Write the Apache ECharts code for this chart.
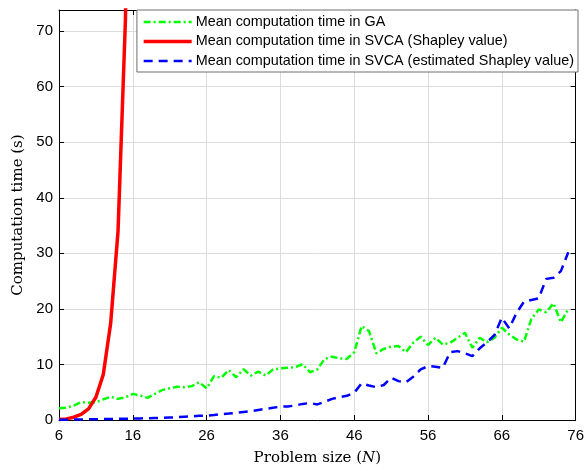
<!DOCTYPE html>
<html>
<head>
<meta charset="utf-8">
<script src="https://cdn.jsdelivr.net/npm/echarts@6/dist/echarts.min.js"></script>
<style>
  html, body { margin: 0; padding: 0; background: #fff; }
  #chart { width: 587px; height: 471px; }
</style>
</head>
<body>
<div id="chart"></div>
<script>
// Problem sizes N = 6 ... 75
const problemSizes = [];
for (let n = 6; n <= 75; n++) problemSizes.push(n);

// Mean computation time (s) of the genetic algorithm
const gaTime = [
  2.1, 2.2, 2.6, 3.2, 3.1, 3.2, 3.7, 4.2, 3.8, 4.1,
  4.7, 4.4, 4.0, 4.7, 5.4, 5.7, 6.0, 5.9, 6.1, 6.8,
  5.7, 7.9, 7.6, 9.0, 7.7, 9.15, 8.0, 8.7, 8.0, 9.1,
  9.3, 9.4, 9.5, 10.05, 8.6, 9.1, 11.0, 11.4, 11.1, 11.0,
  12.2, 16.9, 16.0, 12.0, 12.8, 13.2, 13.3, 12.2, 13.9, 15.0,
  13.5, 14.8, 13.6, 13.9, 14.8, 15.7, 13.0, 14.8, 14.0, 14.8,
  16.6, 15.4, 14.5, 14.1, 18.2, 19.9, 19.4, 21.0, 17.6, 20.0
];

// Exact Shapley value: only small problem sizes are tractable
const svcaExactN = [6, 7, 8, 9, 10, 11, 12, 13, 14, 15, 16];
const svcaExactTime = [0.1, 0.2, 0.5, 1.0, 2.0, 4.1, 8.2, 17.4, 34.0, 72.0, 150.0];

// Estimated Shapley value
const svcaEstTime = [
  0.05, 0.05, 0.08, 0.1, 0.12, 0.14, 0.16, 0.18, 0.2, 0.22,
  0.25, 0.28, 0.32, 0.36, 0.4, 0.45, 0.5, 0.58, 0.65, 0.75,
  0.8, 0.9, 1.05, 1.15, 1.3, 1.45, 1.6, 1.8, 2.0, 2.2,
  2.4, 2.45, 2.6, 2.9, 3.05, 2.8, 3.3, 3.8, 4.1, 4.35,
  4.9, 6.6, 6.2, 5.9, 6.3, 7.6, 7.0, 6.8, 7.8, 9.1,
  9.7, 9.6, 9.4, 12.2, 12.4, 12.0, 11.5, 12.9, 14.0, 15.3,
  18.4, 16.5, 19.3, 21.3, 21.6, 21.9, 25.4, 25.6, 26.8, 30.2
];

const xTicks = { min: 6, max: 76, interval: 10 };
const yTicks = { min: 0, max: 73.8, interval: 10 };

const seriesNames = [
  'Mean computation time in GA',
  'Mean computation time in SVCA (Shapley value)',
  'Mean computation time in SVCA (estimated Shapley value)'
];

const pair = (xs, ys) => xs.map((x, i) => [x, ys[i]]);

const labelFont = 'Liberation Sans, Arial, Helvetica, sans-serif';
const titleFont = 'DejaVu Serif, serif';

const styles = [
  { color: '#00ff00', width: 2.5, type: [7, 3, 2, 3] },
  { color: '#ff0000', width: 3.5, type: 'solid' },
  { color: '#0000ff', width: 2.5, type: [9, 6] }
];

const frameAxis = (extra) => Object.assign({
  type: 'value',
  axisLine: { show: true, onZero: false, lineStyle: { color: '#000', width: 1 } },
  axisTick: { show: true, inside: true, length: 5, lineStyle: { color: '#000' } },
  splitLine: { show: false },
  axisLabel: { show: false }
}, extra);

const chart = echarts.init(document.getElementById('chart'), null, { renderer: 'canvas' });
chart.setOption({
  animation: false,
  backgroundColor: '#fff',
  grid: { left: 59, right: 9, top: 10, bottom: 50, containLabel: false },
  xAxis: [
    frameAxis({
      min: xTicks.min, max: xTicks.max, interval: xTicks.interval,
      position: 'bottom',
      splitLine: { show: true, lineStyle: { color: '#dcdcdc', width: 1 } },
      axisLabel: { show: true, color: '#000', fontFamily: labelFont, fontSize: 15, margin: 8 },
      name: 'Problem size ({i|N})',
      nameLocation: 'middle',
      nameGap: 31,
      nameTextStyle: {
        color: '#000', fontFamily: titleFont, fontSize: 15,
        rich: { i: { fontFamily: titleFont, fontSize: 15, fontStyle: 'italic', color: '#000' } }
      }
    }),
    frameAxis({ min: xTicks.min, max: xTicks.max, interval: xTicks.interval, position: 'top' })
  ],
  yAxis: [
    frameAxis({
      min: yTicks.min, max: yTicks.max, interval: yTicks.interval,
      position: 'left',
      splitLine: { show: true, lineStyle: { color: '#dcdcdc', width: 1 } },
      axisLabel: { show: true, color: '#000', fontFamily: labelFont, fontSize: 15, margin: 6, showMaxLabel: false },
      name: 'Computation time (s)',
      nameLocation: 'middle',
      nameGap: 32,
      nameTextStyle: { color: '#000', fontFamily: titleFont, fontSize: 15 }
    }),
    frameAxis({ min: yTicks.min, max: yTicks.max, interval: yTicks.interval, position: 'right' })
  ],
  legend: {
    orient: 'vertical',
    right: 9,
    top: 10,
    itemWidth: 48,
    itemHeight: 14,
    itemGap: 5.5,
    padding: [5, 4, 4, 5],
    backgroundColor: '#fff',
    borderColor: '#6e6e6e',
    borderWidth: 1,
    itemStyle: { opacity: 0 },
    textStyle: { color: '#000', fontFamily: labelFont, fontSize: 14.4, padding: [0, 0, 0, -1] },
    data: seriesNames.map((name, i) => ({ name, lineStyle: styles[i] }))
  },
  series: [
    {
      name: seriesNames[0],
      type: 'line',
      data: pair(problemSizes, gaTime),
      showSymbol: false, symbol: 'none',
      lineStyle: styles[0],
      itemStyle: { color: styles[0].color },
      z: 3
    },
    {
      name: seriesNames[1],
      type: 'line',
      data: pair(svcaExactN, svcaExactTime),
      showSymbol: false, symbol: 'none',
      lineStyle: styles[1],
      itemStyle: { color: styles[1].color },
      clip: true,
      z: 4
    },
    {
      name: seriesNames[2],
      type: 'line',
      data: pair(problemSizes, svcaEstTime),
      showSymbol: false, symbol: 'none',
      lineStyle: styles[2],
      itemStyle: { color: styles[2].color },
      z: 5
    }
  ]
});
</script>
</body>
</html>
